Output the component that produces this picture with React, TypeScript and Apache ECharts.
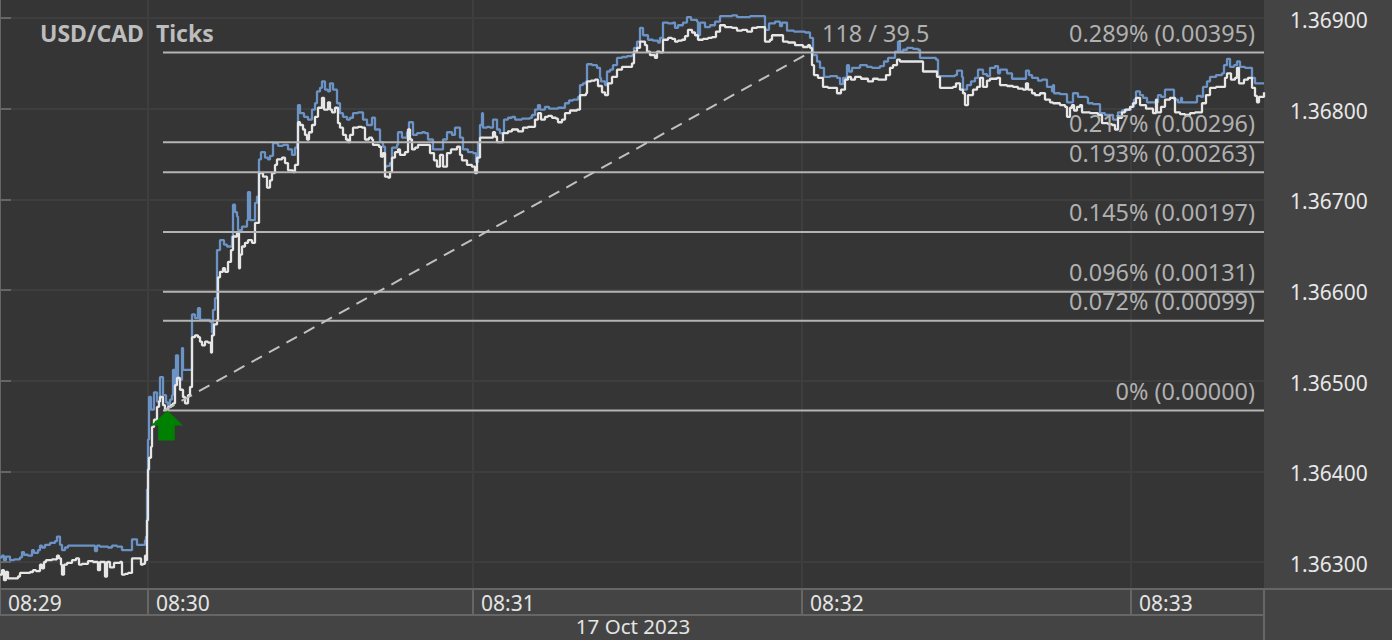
import React, { useEffect, useRef } from "react";
import * as echarts from "echarts";

const W = 1392;
const H = 640;

const titleText = "USD/CAD  Ticks";
const dateText = "17 Oct 2023";
const priceTicks = [1.363, 1.364, 1.365, 1.366, 1.367, 1.368, 1.369];
const timeTicks = [0, 148, 473, 802, 1131];
const timeLabels = ["08:29", "08:30", "08:31", "08:32", "08:33"];
const fibPrices = [1.36862, 1.36763, 1.3673, 1.36664, 1.36598, 1.36566, 1.36467];
const fibTexts = [
  "0.289% (0.00395)",
  "0.217% (0.00296)",
  "0.193% (0.00263)",
  "0.145% (0.00197)",
  "0.096% (0.00131)",
  "0.072% (0.00099)",
  "0% (0.00000)",
];
const fibStartTick = 163;
const lastTick = 1264;
const trendTicks = [164, 810];
const trendPrices = [1.36467, 1.36862];
const trendText = "118 / 39.5";
const arrowTick = 167;
const arrowPrice = 1.36467;

// [tick number, quote in 0.00001 above 1.36000]
const askQuotes = [
  [0,305],[2,307],[4,302],[6,306],[10,302],[14,303],[20,305],[22,311],[24,308],[28,307],[32,313],[34,310],[38,313],[40,318],[42,316],[45,319],[50,321],[55,323],[57,328],[60,319],[62,313],[65,316],[68,318],[72,318],[76,318],[80,318],[85,318],[92,318],[95,312],[97,318],[100,317],[105,317],[108,316],[112,318],[117,317],[122,313],[125,313],[128,313],[132,325],[136,325],[137,319],[143,319],[145,324],[146,328],
  [147,380],[148,435],[149,482],[151,468],[154,487],[157,477],[160,504],[163,484],[166,476],[168,473],[170,479],[172,484],[173,512],[175,495],[176,528],[178,501],[182,536],[183,512],[188,512],[190,512],[192,573],[195,569],[198,580],[200,567],[205,567],[210,565],[212,553],[213,578],[215,591],[217,644],[220,655],[224,650],[227,648],[232,659],[233,694],[235,686],[237,681],[238,666],[242,670],[247,677],[248,708],[250,677],[255,696],[257,703],[259,744],[261,752],[265,746],[268,744],[270,748],[273,762],[278,759],[283,760],[288,755],[292,749],[295,757],[297,763],[298,804],[300,795],[304,791],[308,788],[312,799],[315,806],[317,819],[320,823],[322,830],[325,821],[328,819],[330,828],[333,821],[337,806],[340,795],[343,791],[347,788],[350,790],[353,795],[358,796],[363,788],[367,782],[372,790],[375,777],[379,777],[380,763],[383,758],[385,736],[387,737],[390,740],[392,757],[397,760],[398,774],[402,768],[407,774],[409,785],[413,771],[417,773],[422,774],[425,773],[428,766],[433,755],[438,755],[443,766],[447,774],[452,771],[455,779],[460,768],[463,755],[468,752],[473,751],[476,741],[478,762],[480,782],[482,795],[483,779],[487,780],[490,779],
  [493,788],[497,777],[500,773],[504,788],[508,790],[512,791],[515,788],[522,789],[530,790],[532,793],[535,799],[538,804],[540,799],[545,802],[549,800],[553,800],[558,801],[562,801],[565,806],[569,809],[573,810],[578,813],[580,826],[583,828],[586,830],[587,849],[592,848],[597,845],[600,834],[601,830],[605,826],[607,841],[610,843],[613,848],[617,856],[622,857],[627,858],[632,859],[634,867],[637,874],
  [640,889],[643,881],[648,876],[653,875],[658,873],[660,878],[663,895],[668,894],[673,895],[675,889],[678,892],[683,895],[687,901],[691,898],[697,896],[698,881],[700,895],[705,890],[710,892],[715,896],[720,902],[726,902],[732,903],[737,901],[743,901],[748,901],[750,902],[756,902],[762,902],[765,887],[769,894],[775,896],[780,891],[782,895],[787,886],[794,885],[802,885],[805,884],[810,878],
  [813,859],[817,852],[820,845],[824,835],[830,836],[837,834],[840,827],[843,834],[847,848],[849,841],[852,845],[860,848],[867,846],[872,845],[877,845],[880,847],[884,852],[888,856],[893,856],[895,863],[898,874],[900,863],[903,865],[907,867],[913,866],[918,865],[920,856],[926,856],[932,856],[936,854],[938,836],[946,836],[955,837],[957,842],[962,835],[963,821],[967,826],[971,830],[975,834],[978,843],[983,838],[987,836],[990,845],[995,847],[998,839],[1000,843],[1007,839],[1012,833],[1018,833],[1023,833],[1026,842],[1029,837],[1032,834],[1038,831],[1042,832],[1047,824],[1052,819],[1053,826],[1054,817],[1060,816],[1066,816],[1067,807],[1072,807],[1073,817],[1078,813],[1082,813],[1087,812],[1088,806],[1093,805],[1098,805],[1100,795],[1105,793],[1110,793],[1113,788],[1118,796],[1122,798],[1127,799],[1131,802],[1134,810],[1136,819],[1140,815],[1143,812],[1147,807],[1152,807],[1156,807],[1158,815],[1161,813],[1165,821],[1170,821],[1173,821],[1174,810],[1178,807],[1181,812],[1182,807],[1188,807],[1195,807],[1197,814],[1201,813],[1203,824],[1207,830],[1210,835],[1216,837],[1222,839],[1224,848],[1227,855],[1230,846],[1234,848],[1237,852],[1240,846],[1245,845],[1248,845],[1252,834],[1255,828],[1260,828],[1264,828],
];

const bidQuotes = [
  [0,286],[2,291],[4,280],[6,289],[8,282],[12,282],[18,284],[20,288],[24,288],[30,289],[33,291],[36,290],[40,297],[42,293],[44,300],[46,302],[52,303],[57,307],[59,304],[61,297],[62,286],[64,297],[67,299],[72,302],[76,304],[79,297],[82,298],[88,301],[93,300],[95,300],[98,291],[100,300],[104,300],[105,284],[107,300],[110,294],[114,299],[120,300],[122,286],[125,287],[128,288],[132,304],[138,304],[141,297],[143,298],[145,307],[146,302],
  [147,346],[148,402],[149,415],[151,427],[152,449],[154,457],[157,471],[159,477],[160,482],[163,473],[165,468],[168,471],[171,473],[173,475],[175,495],[177,503],[180,490],[183,482],[185,475],[188,484],[190,493],[192,548],[195,550],[198,548],[200,543],[202,539],[205,543],[208,542],[211,531],[212,550],[214,562],[217,567],[218,614],[220,620],[223,624],[225,620],[228,631],[231,644],[233,659],[237,663],[239,624],[240,639],[242,648],[245,652],[248,655],[252,652],[255,674],[258,674],[259,729],[263,725],[267,713],[270,721],[272,729],[275,738],[277,744],[282,746],[285,740],[288,732],[293,730],[295,738],[298,785],[300,782],[303,777],[305,771],[307,766],[309,774],[312,782],[315,791],[318,801],[322,812],[324,799],[328,807],[330,799],[332,796],[335,801],[338,784],[340,779],[343,771],[346,766],[348,763],[350,771],[353,779],[358,780],[362,779],[365,766],[369,768],[372,766],[373,760],[379,758],[381,747],[383,751],[385,725],[388,724],[390,730],[392,746],[395,752],[398,755],[400,749],[405,752],[408,777],[410,766],[412,755],[415,757],[418,760],[425,760],[430,751],[434,743],[437,736],[440,749],[443,736],[447,751],[451,755],[455,755],[457,758],[460,749],[462,743],[467,738],[472,736],[475,729],[477,746],[480,768],[485,768],[490,768],
  [493,774],[495,769],[497,763],[501,763],[503,773],[508,775],[512,777],[518,775],[523,779],[528,780],[532,780],[535,788],[538,795],[541,788],[545,791],[548,792],[552,790],[556,789],[558,785],[562,788],[565,795],[570,798],[577,799],[580,815],[584,815],[586,817],[587,830],[591,831],[595,832],[598,825],[602,818],[605,815],[607,815],[608,828],[612,835],[617,843],[622,846],[627,846],[632,850],[634,863],[637,867],
  [640,874],[645,870],[647,863],[650,859],[655,856],[657,863],[660,862],[663,876],[668,878],[672,877],[675,874],[678,875],[682,876],[685,880],[688,887],[692,884],[695,881],[698,876],[703,877],[708,878],[712,879],[716,885],[720,892],[725,890],[732,889],[737,886],[742,887],[747,885],[752,889],[757,890],[762,890],[765,874],[770,876],[772,881],[778,881],[783,874],[788,873],[795,870],[803,868],[808,870],[810,867],
  [812,848],[814,837],[818,834],[823,824],[828,823],[833,823],[837,817],[841,821],[845,832],[848,835],[851,832],[855,835],[861,833],[868,830],[873,833],[878,832],[883,832],[886,837],[890,845],[893,848],[897,854],[900,852],[907,852],[913,852],[918,852],[923,841],[928,841],[933,841],[937,835],[940,823],[947,823],[953,824],[956,828],[960,821],[963,817],[965,804],[968,815],[973,821],[977,824],[980,834],[983,824],[987,831],[990,833],[997,834],[1000,826],[1007,825],[1013,824],[1018,822],[1023,821],[1026,828],[1028,821],[1032,817],[1035,815],[1040,817],[1045,810],[1050,807],[1053,806],[1060,804],[1065,802],[1067,791],[1070,801],[1072,804],[1074,798],[1077,802],[1080,804],[1082,796],[1087,796],[1090,795],[1098,793],[1102,784],[1108,783],[1112,782],[1115,777],[1118,790],[1122,796],[1125,799],[1130,802],[1133,806],[1136,812],[1140,804],[1146,800],[1153,795],[1156,810],[1157,796],[1161,802],[1165,810],[1170,812],[1172,812],[1175,796],[1180,794],[1185,793],[1190,795],[1195,796],[1202,806],[1206,815],[1210,823],[1216,824],[1222,824],[1225,834],[1227,839],[1231,832],[1235,834],[1237,845],[1239,828],[1244,832],[1248,834],[1252,823],[1255,814],[1257,807],[1259,813],[1264,818],
];

const toSeries = (rows: number[][]) => rows.map(([t, q]) => [t, 1.36 + q / 100000]);

const FONT = '"Noto Sans", sans-serif';
const FIB = "#b4b4b4";
const AXIS = "#666666";
const GRID = "#3e3e3e";

export default function App() {
  const ref = useRef<HTMLDivElement>(null);

  useEffect(() => {
    document.body.style.margin = "0";
    const chart = echarts.init(ref.current!, undefined, { renderer: "svg", width: W, height: H });

    const fibSeries = fibPrices.map((p, i) => ({
      type: "line",
      silent: true,
      z: 4,
      symbol: "circle",
      symbolSize: 0,
      showSymbol: true,
      lineStyle: { color: FIB, width: 2 },
      data: [
        { value: [fibStartTick, p], label: { show: false } },
        {
          value: [lastTick, p],
          label: {
            show: true,
            formatter: fibTexts[i],
            position: [-9, -8],
            align: "right",
            verticalAlign: "bottom",
            color: "#b0b0b0",
            fontFamily: FONT,
            fontSize: 23.4,
          },
        },
      ],
    }));

    chart.setOption({
      animation: false,
      backgroundColor: "#444444",
      title: {
        text: titleText,
        left: 35,
        top: 16,
        textStyle: { color: "#bdbdbd", fontFamily: FONT, fontSize: 23, fontWeight: "bold" },
      },
      grid: {
        left: 0,
        top: 0,
        right: 128,
        bottom: 51,
        show: true,
        backgroundColor: "#353535",
        borderWidth: 0,
      },
      xAxis: {
        type: "value",
        min: 0,
        max: lastTick,
        axisLine: { show: true, lineStyle: { color: AXIS, width: 2 } },
        axisTick: {
          show: true,
          length: 26,
          lineStyle: { color: AXIS, width: 2 },
          customValues: timeTicks,
        },
        splitLine: { show: true, lineStyle: { color: GRID, width: 2 } },
        axisLabel: {
          show: true,
          customValues: timeTicks,
          showMinLabel: true,
          showMaxLabel: true,
          color: "#e4e4e4",
          fontFamily: FONT,
          fontSize: 21,
          align: "left",
          margin: 3,
          padding: [0, 0, 0, 8],
          formatter: (v: number) => timeLabels[timeTicks.indexOf(v)] ?? "",
        },
      },
      yAxis: {
        type: "value",
        position: "right",
        min: 1.369 - 571 / 90667,
        max: 1.369 + 18 / 90667,
        axisLine: { show: true, lineStyle: { color: AXIS, width: 2 } },
        axisTick: {
          show: true,
          length: 11,
          lineStyle: { color: AXIS, width: 2 },
          customValues: priceTicks,
        },
        splitLine: { show: true, lineStyle: { color: GRID, width: 2 } },
        axisLabel: {
          show: true,
          customValues: priceTicks,
          color: "#e8e8e8",
          fontFamily: FONT,
          fontSize: 21,
          margin: 26,
          verticalAlign: "top",
          lineHeight: 4,
          formatter: (v: number) => v.toFixed(5),
        },
      },
      series: [
        {
          type: "line",
          name: "Ask",
          silent: true,
          z: 2,
          step: "end",
          symbol: "none",
          lineStyle: { color: "#6c93c6", width: 2.3 },
          data: toSeries(askQuotes),
        },
        {
          type: "line",
          name: "Bid",
          silent: true,
          z: 3,
          step: "end",
          symbol: "none",
          lineStyle: { color: "#e6e6e6", width: 2.3 },
          data: toSeries(bidQuotes),
        },
        ...fibSeries,
        {
          type: "line",
          name: "Trend",
          silent: true,
          z: 5,
          symbol: "circle",
          symbolSize: 0,
          showSymbol: true,
          lineStyle: { color: "#c0c0c0", width: 2, type: [12, 8] },
          data: [
            { value: [trendTicks[0], trendPrices[0]], label: { show: false } },
            {
              value: [trendTicks[1], trendPrices[1]],
              label: {
                show: true,
                formatter: trendText,
                position: [12, -8],
                align: "left",
                verticalAlign: "bottom",
                color: "#b0b0b0",
                fontFamily: FONT,
                fontSize: 23.4,
              },
            },
          ],
        },
        {
          type: "scatter",
          name: "Signal",
          silent: true,
          z: 6,
          symbol: "path://M16 0 L31 15 L23 15 L23 30 L7 30 L7 15 L0 15 Z",
          symbolSize: [32, 30],
          symbolOffset: [0, "50%"],
          itemStyle: { color: "#008000", opacity: 1 },
          data: [[arrowTick, arrowPrice]],
        },
      ],
      graphic: [
        { type: "line", shape: { x1: 0, y1: 615, x2: 1264, y2: 615 }, style: { stroke: AXIS, lineWidth: 2 } },
        { type: "line", shape: { x1: 1264, y1: 589, x2: 1392, y2: 589 }, style: { stroke: AXIS, lineWidth: 2 } },
        { type: "line", shape: { x1: 1264, y1: 589, x2: 1264, y2: 640 }, style: { stroke: AXIS, lineWidth: 2 } },
        {
          type: "text",
          x: 633,
          y: 626,
          style: {
            text: dateText,
            fill: "#e4e4e4",
            font: `20.5px ${FONT}`,
            textAlign: "center",
            textVerticalAlign: "middle",
          },
        },
      ],
    });

    return () => chart.dispose();
  }, []);

  return <div ref={ref} style={{ width: W, height: H }} />;
}
